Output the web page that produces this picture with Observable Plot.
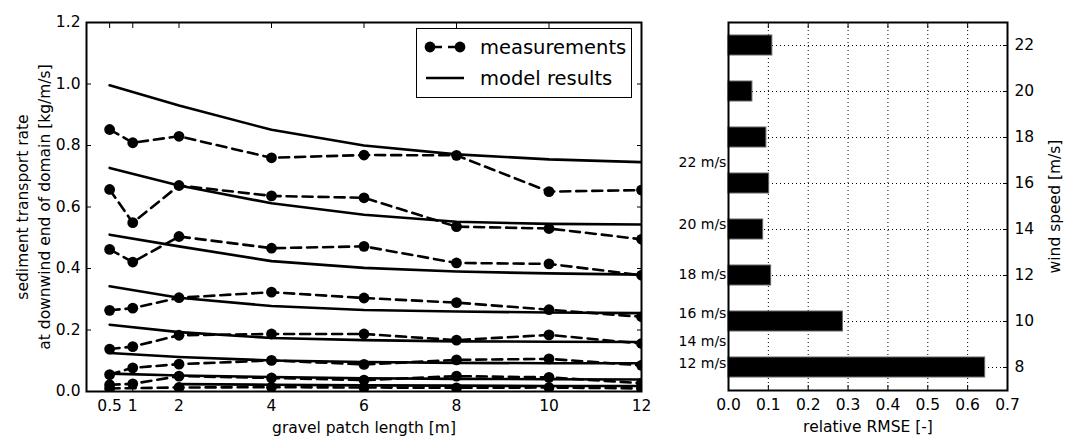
<!DOCTYPE html>
<html><head><meta charset="utf-8">
<script src="https://cdn.jsdelivr.net/npm/d3@7"></script>
<script src="https://cdn.jsdelivr.net/npm/@observablehq/plot@0.6"></script>
<style>
html,body{margin:0;padding:0;background:#fff;}
#wrap{position:relative;width:1067px;height:438px;font-family:"DejaVu Sans",sans-serif;overflow:hidden;background:#fff;}
#left{position:absolute;left:0;top:0;}
#right{position:absolute;left:725px;top:0;}
#legend{position:absolute;left:416px;top:28px;width:214px;height:68px;border:1.5px solid #000;background:#fff;}
#legend svg{display:block;}
</style></head><body>
<div id="wrap"><div id="left"></div><div id="right"></div><div id="legend"></div></div>
<script>
// ---- data ----
const lengths = [0.5, 1, 2, 4, 6, 8, 10, 12];
const modelLengths = [0.5, 2, 4, 6, 8, 10, 12];
const speeds = [8, 10, 12, 14, 16, 18, 20, 22];
const labelledSpeeds = [12, 14, 16, 18, 20, 22];

const meas22 = [0.852, 0.809, 0.830, 0.760, 0.769, 0.768, 0.650, 0.655];
const meas20 = [0.657, 0.549, 0.670, 0.636, 0.630, 0.536, 0.530, 0.495];
const meas18 = [0.462, 0.421, 0.504, 0.466, 0.472, 0.418, 0.415, 0.378];
const meas16 = [0.264, 0.271, 0.305, 0.323, 0.304, 0.289, 0.266, 0.243];
const meas14 = [0.138, 0.146, 0.183, 0.187, 0.187, 0.167, 0.184, 0.156];
const meas12 = [0.055, 0.077, 0.089, 0.101, 0.088, 0.103, 0.106, 0.085];
const meas10 = [0.022, 0.025, 0.050, 0.044, 0.037, 0.050, 0.046, 0.027];
const meas8  = [0.010, null, 0.013, 0.014, 0.013, 0.012, 0.013, 0.010];

const model22 = [0.996, 0.930, 0.851, 0.800, 0.771, 0.755, 0.746];
const model20 = [0.727, 0.670, 0.612, 0.575, 0.552, 0.545, 0.543];
const model18 = [0.510, 0.472, 0.424, 0.402, 0.390, 0.384, 0.380];
const model16 = [0.342, 0.305, 0.278, 0.265, 0.260, 0.257, 0.255];
const model14 = [0.217, 0.193, 0.174, 0.167, 0.163, 0.162, 0.161];
const model12 = [0.125, 0.112, 0.101, 0.096, 0.093, 0.092, 0.092];
const model10 = [0.058, 0.052, 0.047, 0.043, 0.041, 0.040, 0.039];
const model8  = [null, 0.024, 0.022, 0.020, 0.019, 0.018, 0.018];

const rmse = [0.644, 0.287, 0.107, 0.087, 0.102, 0.095, 0.060, 0.110]; // for speeds 8..22

const xTicks = [0.5, 1, 2, 4, 6, 8, 10, 12];
const yTicks = [0, 0.2, 0.4, 0.6, 0.8, 1.0, 1.2];
const rxTicks = [0, 0.1, 0.2, 0.3, 0.4, 0.5, 0.6, 0.7];
const xTitle = "gravel patch length [m]";
const yTitle = "sediment transport rate\nat downwind end of domain [kg/m/s]";
const rxTitle = "relative RMSE [-]";
const ryTitle = "wind speed [m/s]";
const legendLabels = ["measurements", "model results"];

// ---- build tables ----
const measBySpeed = {8: meas8, 10: meas10, 12: meas12, 14: meas14, 16: meas16, 18: meas18, 20: meas20, 22: meas22};
const modelBySpeed = {8: model8, 10: model10, 12: model12, 14: model14, 16: model16, 18: model18, 20: model20, 22: model22};
const measRows = [], modelRows = [];
for (const s of speeds) {
  measBySpeed[s].forEach((v, i) => { if (v != null) measRows.push({speed: s, length: lengths[i], value: v}); });
  modelBySpeed[s].forEach((v, i) => { if (v != null) modelRows.push({speed: s, length: modelLengths[i], value: v}); });
}
const labelRows = labelledSpeeds.map(s => ({speed: s, length: modelLengths[modelLengths.length - 1], value: modelBySpeed[s][modelBySpeed[s].length - 1]}));
const barRows = speeds.map((s, i) => ({speed: s, rmse: rmse[i]}));

const baseStyle = {fontFamily: "DejaVu Sans", fontSize: "15.5px", color: "#000", background: "transparent", overflow: "visible"};

const left = Plot.plot({
  width: 725, height: 438,
  marginLeft: 86, marginRight: 84, marginTop: 22, marginBottom: 47,
  style: baseStyle,
  x: {domain: [0, 12]},
  y: {domain: [0, 1.2]},
  marks: [
    Plot.line(modelRows, {x: "length", y: "value", z: "speed", stroke: "#000", strokeWidth: 2.6, clip: true}),
    Plot.line(measRows, {x: "length", y: "value", z: "speed", stroke: "#000", strokeWidth: 2.6, strokeDasharray: "10,6", clip: true}),
    Plot.dot(measRows, {x: "length", y: "value", r: 5.4, fill: "#000", clip: true}),
    Plot.text(labelRows, {x: "length", y: "value", text: d => d.speed + " m/s", dx: 37, textAnchor: "start", fontSize: 14}),
    Plot.frame({stroke: "#000", strokeWidth: 2}),
    Plot.axisX({anchor: "bottom", ticks: xTicks, tickSize: -5, tickPadding: 13, tickFormat: d => String(d), label: null}),
    Plot.axisX({anchor: "top", ticks: xTicks, tickSize: -5, tickFormat: () => "", label: null}),
    Plot.axisY({anchor: "left", ticks: yTicks, tickSize: -5, tickPadding: 11, tickFormat: d3.format(".1f"), label: null}),
    Plot.axisY({anchor: "right", ticks: yTicks, tickSize: -5, tickFormat: () => "", label: null}),
    Plot.text([xTitle], {frameAnchor: "bottom", dy: 37, text: d => d, lineAnchor: "middle", textAnchor: "middle"}),
    Plot.text([yTitle], {frameAnchor: "left", dx: -55, rotate: -90, text: d => d, lineAnchor: "middle", textAnchor: "middle", lineHeight: 1.42})
  ]
});
document.getElementById("left").appendChild(left);

const right = Plot.plot({
  width: 342, height: 438,
  marginLeft: 3, marginRight: 60, marginTop: 22, marginBottom: 48,
  style: baseStyle,
  x: {domain: [0, 0.7]},
  y: {domain: [7, 23]},
  marks: [
    Plot.gridX({ticks: rxTicks, stroke: "#000", strokeOpacity: 1, strokeWidth: 1, strokeDasharray: "1,3"}),
    Plot.gridY({ticks: speeds, stroke: "#000", strokeOpacity: 1, strokeWidth: 1, strokeDasharray: "1,3"}),
    Plot.rect(barRows, {x1: 0, x2: "rmse", y1: d => d.speed - 0.435, y2: d => d.speed + 0.435, fill: "#000", stroke: "#666", strokeWidth: 1}),
    Plot.frame({stroke: "#000", strokeWidth: 2}),
    Plot.axisX({anchor: "bottom", ticks: rxTicks, tickSize: -5, tickPadding: 13, tickFormat: d3.format(".1f"), label: null}),
    Plot.axisX({anchor: "top", ticks: rxTicks, tickSize: -5, tickFormat: () => "", label: null}),
    Plot.axisY({anchor: "right", ticks: speeds, tickSize: -5, tickPadding: 12, tickFormat: d => String(d), label: null}),
    Plot.axisY({anchor: "left", ticks: speeds, tickSize: -5, tickFormat: () => "", label: null}),
    Plot.text([rxTitle], {frameAnchor: "bottom", dy: 37, text: d => d, lineAnchor: "middle", textAnchor: "middle"}),
    Plot.text([ryTitle], {frameAnchor: "right", dx: 48, rotate: -90, text: d => d, lineAnchor: "middle", textAnchor: "middle"})
  ]
});
document.getElementById("right").appendChild(right);

// ---- legend ----
const lg = d3.select("#legend").append("svg").attr("width", 214).attr("height", 68)
  .style("font-family", "DejaVu Sans").style("font-size", "19.5px");
lg.append("line").attr("x1", 9).attr("x2", 47).attr("y1", 18).attr("y2", 18)
  .attr("stroke", "#000").attr("stroke-width", 2.6).attr("stroke-dasharray", "10,6").attr("stroke-dashoffset", -6);
lg.append("circle").attr("cx", 13).attr("cy", 18).attr("r", 5.4);
lg.append("circle").attr("cx", 43).attr("cy", 18).attr("r", 5.4);
lg.append("line").attr("x1", 9).attr("x2", 47).attr("y1", 49).attr("y2", 49)
  .attr("stroke", "#000").attr("stroke-width", 2.6);
lg.selectAll("text.lbl").data(legendLabels).join("text").attr("class", "lbl")
  .attr("x", 63).attr("y", (d, i) => 18 + i * 31).attr("dy", "0.35em").text(d => d);
</script>
</body></html>
